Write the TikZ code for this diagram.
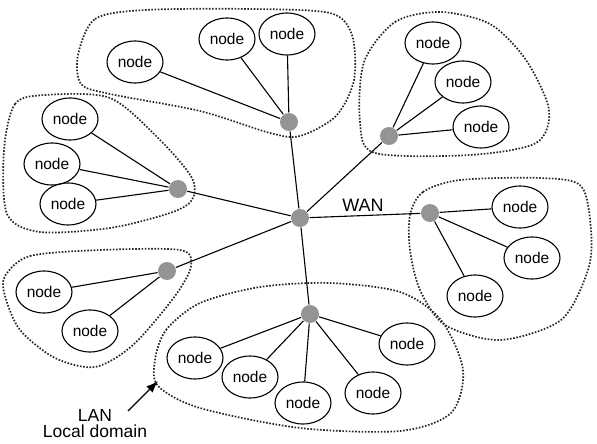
\documentclass[tikz,border=0pt]{standalone}
\usepackage{fontspec}
\setmainfont{Liberation Sans}
\usetikzlibrary{shapes.geometric,arrows.meta}

\begin{document}
\begin{tikzpicture}[x=1pt,y=-1pt,>={Latex[length=12pt,width=9pt]},line width=1.1pt,
    font=\fontsize{15.5}{17}\selectfont,
    host/.style={draw,ellipse,minimum width=56pt,minimum height=42pt,inner sep=0pt},
    hub/.style={circle,fill=black!42,inner sep=0pt,minimum size=18pt},
    lanzone/.style={line width=1.7pt,dash pattern=on 1.6pt off 1.6pt,black!85}]
    \useasboundingbox (0,0) rectangle (597,444);
    % local domains
    \draw[lanzone] plot[smooth cycle] coordinates {(78,55) (95,19) (145,10) (250,9) (330,13) (352,35) (354,80) (336,116) (300,136) (270,133) (200,111) (110,94) (81,84)};
    \draw[lanzone] plot[smooth cycle] coordinates {(364,62) (395,22) (440,12) (490,24) (526,60) (549,110) (536,143) (470,155) (375,153) (360,122)};
    \draw[lanzone] plot[smooth cycle] coordinates {(4,150) (15,104) (45,95) (110,98) (160,140) (192,178) (192,200) (170,213) (110,228) (40,232) (7,214)};
    \draw[lanzone] plot[smooth cycle] coordinates {(5,276) (30,256) (100,250) (180,250) (191,266) (175,296) (133,345) (95,367) (55,358) (20,330) (5,296)};
    \draw[lanzone] plot[smooth cycle] coordinates {(155,360) (166,330) (200,303) (260,287) (330,283) (400,292) (441,320) (463,370) (451,413) (400,431) (300,428) (200,408) (158,386)};
    \draw[lanzone] plot[smooth cycle] coordinates {(410,215) (423,192) (460,180) (540,178) (581,186) (591,230) (588,270) (561,320) (500,340) (445,325) (420,290) (410,250)};
    % hubs
    \node[hub] (wan) at (300,218) {};
    \node[hub] (ht) at (289,122) {};
    \node[hub] (htr) at (389,136) {};
    \node[hub] (hr) at (430,213) {};
    \node[hub] (hl) at (178,189) {};
    \node[hub] (hll) at (167,271) {};
    \node[hub] (hb) at (310,314) {};
    \node[font=\fontsize{18}{20}\selectfont] (wanlbl) at (363,205) {WAN};
    % hosts
    \node[host] (t1) at (135,62) {node};
    \node[host] (t2) at (227,39) {node};
    \node[host] (t3) at (287,34) {node};
    \node[host] (tr1) at (433,43) {node};
    \node[host] (tr2) at (463,82) {node};
    \node[host] (tr3) at (481,127) {node};
    \node[host] (l1) at (70,119) {node};
    \node[host] (l2) at (52,164) {node};
    \node[host] (l3) at (68,204) {node};
    \node[host] (r1) at (520,207) {node};
    \node[host] (r2) at (532,258) {node};
    \node[host] (r3) at (475,296) {node};
    \node[host] (ll1) at (44,292) {node};
    \node[host] (ll2) at (90,331) {node};
    \node[host] (b1) at (195,358) {node};
    \node[host] (b2) at (250,377) {node};
    \node[host] (b3) at (303,403) {node};
    \node[host] (b4) at (373,393) {node};
    \node[host] (b5) at (407,344) {node};
    % links
    \draw (wan) -- (ht);
    \draw (wan) -- (htr);
    \draw (wan) -- (hr);
    \draw (wan) -- (hl);
    \draw (wan) -- (hll);
    \draw (wan) -- (hb);
    \draw (ht) -- (t1);
    \draw (ht) -- (t2);
    \draw (ht) -- (t3);
    \draw (htr) -- (tr1);
    \draw (htr) -- (tr2);
    \draw (htr) -- (tr3);
    \draw (hl) -- (l1);
    \draw (hl) -- (l2);
    \draw (hl) -- (l3);
    \draw (hr) -- (r1);
    \draw (hr) -- (r2);
    \draw (hr) -- (r3);
    \draw (hll) -- (ll1);
    \draw (hll) -- (ll2);
    \draw (hb) -- (b1);
    \draw (hb) -- (b2);
    \draw (hb) -- (b3);
    \draw (hb) -- (b4);
    \draw (hb) -- (b5);
    % label
    \node[align=center,font=\fontsize{17.5}{16}\selectfont,inner sep=0pt] (lan) at (95,424) {LAN\\Local domain};
    \coordinate (tail) at (128,411);
    \coordinate (tip) at (158,381);
    \draw[->,line width=1.4pt] (tail) -- (tip);
\end{tikzpicture}
\end{document}
